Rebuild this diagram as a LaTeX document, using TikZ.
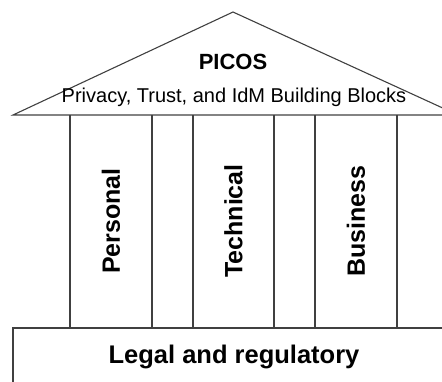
\documentclass[tikz,border=0pt]{standalone}
\usepackage{fontspec}
\setmainfont{Liberation Sans}
\usetikzlibrary{positioning}

\begin{document}
\begin{tikzpicture}[
  x=1pt, y=-1pt,
  line/.style={draw=black!75, line width=1.1pt},
  rooftitle/.style={font=\fontsize{22}{26}\selectfont\bfseries, inner sep=0pt},
  roofsub/.style={font=\fontsize{20}{24}\selectfont, inner sep=0pt},
  pillarlabel/.style={rotate=90, font=\fontsize{25}{30}\selectfont\bfseries, inner sep=0pt},
  baselabel/.style={font=\fontsize{25.5}{30}\selectfont\bfseries, inner sep=0pt}
]
\useasboundingbox (0,0) rectangle (442,381);
\clip (0,0) rectangle (442,381);

% roof
\draw[line] (13,115) -- (233,12) -- (458,115) -- cycle;
\node[rooftitle] (picos) at (233,62) {PICOS};
\node[roofsub] (blocks) at (234,97) {Privacy, Trust, and IdM Building Blocks};

% pillars
\foreach \x in {70,152,193,274,315,397}
  \draw[line] (\x,115) -- (\x,328);
\node[pillarlabel] (personal) at (111,221) {Personal};
\node[pillarlabel] (technical) at (233.5,221) {Technical};
\node[pillarlabel] (business) at (356,221) {Business};

% foundation
\draw[line] (13,395) -- (13,328) -- (460,328);
\node[baselabel] (legal) at (234,357) {Legal and regulatory};
\end{tikzpicture}
\end{document}
